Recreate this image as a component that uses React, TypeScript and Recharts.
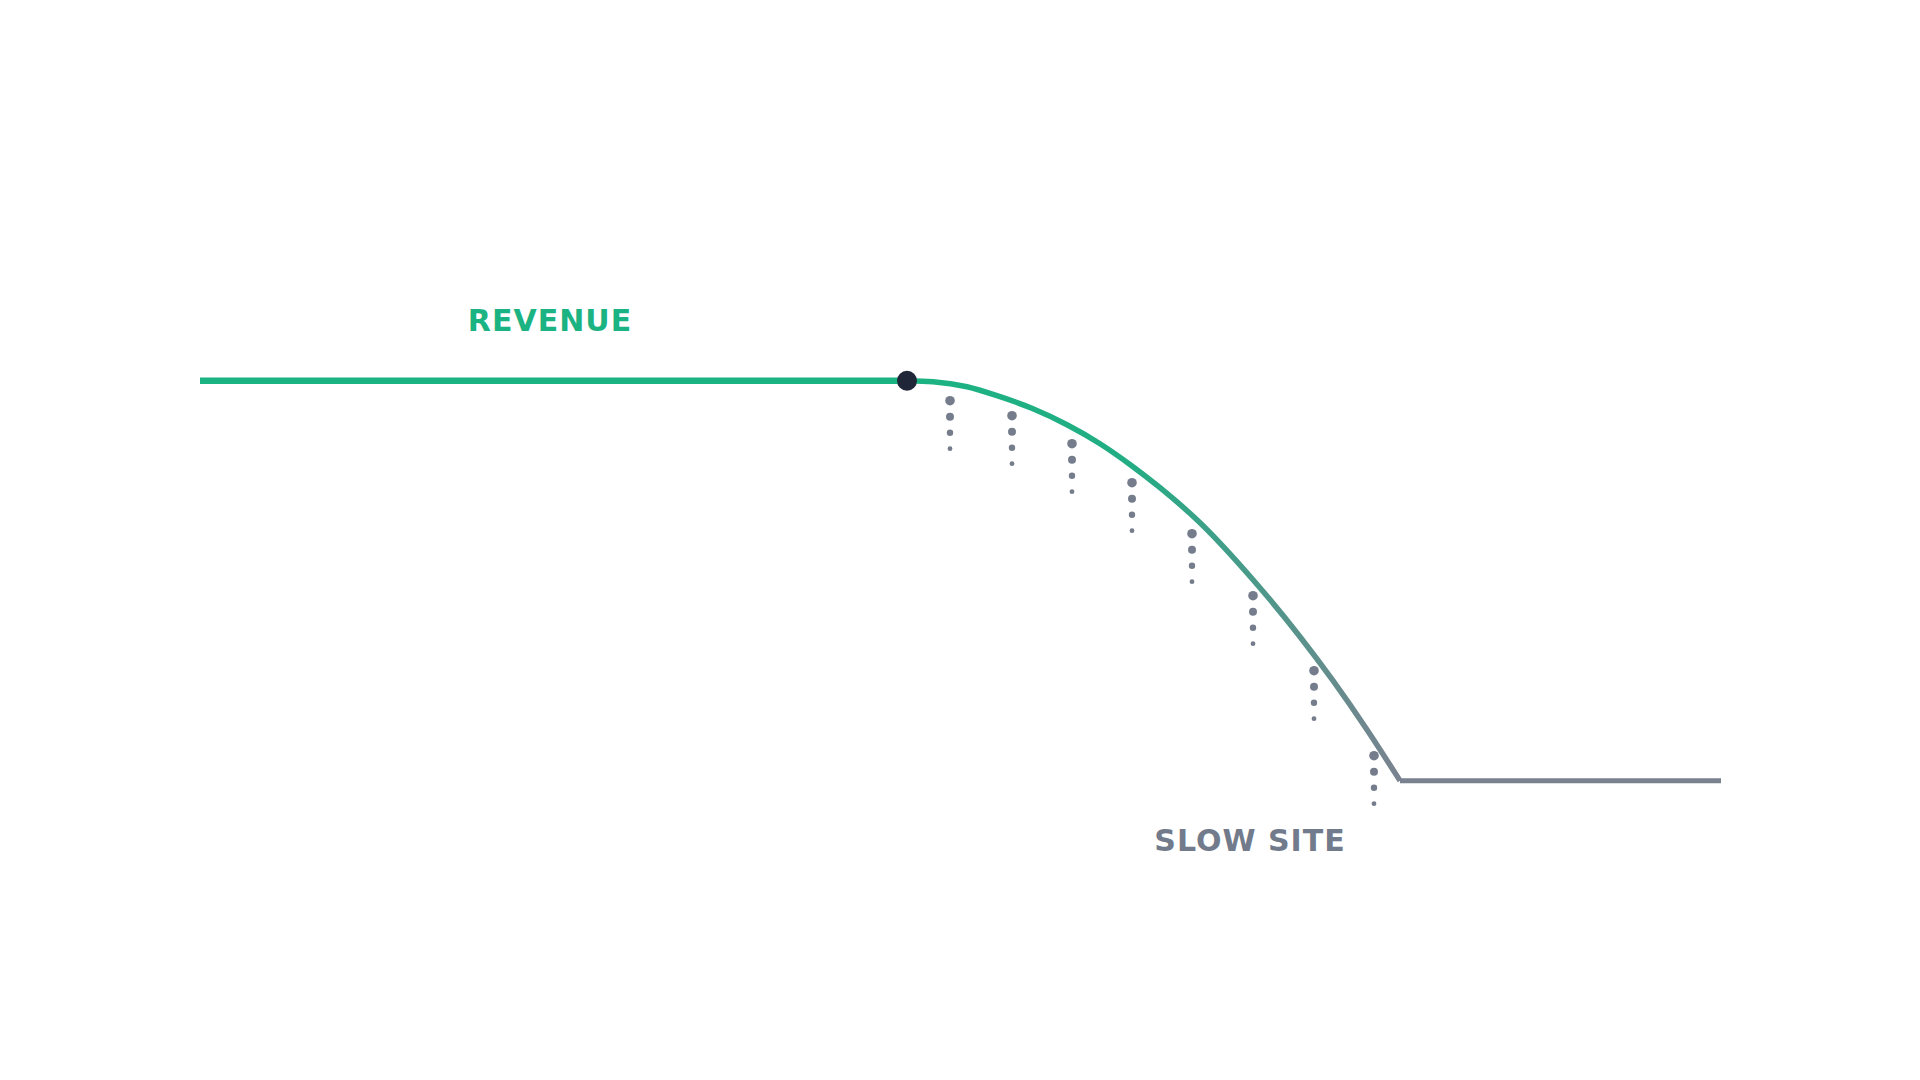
import React from 'react';
import { ComposedChart, Line, Scatter, XAxis, YAxis, ReferenceDot } from 'recharts';

// x: distance along the timeline, y: revenue level (slow-site floor = 0)
const revenueFlat = [
  { x: 0, y: 40 },
  { x: 70.7, y: 40 },
];

const dropX = [70.7, 73.3, 76.7, 80, 83.3, 86.7, 90, 93.3, 96, 100, 105.3, 110, 113.3, 116.7, 120];
const dropY = [40, 39.9, 39.4, 38.4, 37.2, 35.6, 33.7, 31.4, 29.3, 25.8, 20.1, 14.4, 10.0, 5.1, 0];

const slowFlat = [
  { x: 120, y: 0 },
  { x: 152.1, y: 0 },
];

// leaking "drips" under the curve: one column per step, four dots each
const dripX = [75, 81.2, 87.2, 93.2, 99.2, 105.3, 111.4, 117.4];
const dripRow1 = [38.0, 36.5, 33.7, 29.8, 24.7, 18.5, 11.0, 2.5];
const dripRow2 = [36.4, 34.9, 32.1, 28.2, 23.1, 16.9, 9.4, 0.9];
const dripRow3 = [34.8, 33.3, 30.5, 26.6, 21.5, 15.3, 7.8, -0.7];
const dripRow4 = [33.2, 31.7, 28.9, 25.0, 19.9, 13.7, 6.2, -2.3];
const dripRadius = [4.8, 4.0, 3.2, 2.4];

const tippingPoint = [{ x: 70.7, y: 40 }];

const revenueLabel = { text: 'REVENUE', x: 35, y: 45 };
const slowLabel = { text: 'SLOW SITE', x: 105, y: -7 };

const dropData = dropX.map((x, i) => ({ x, y: dropY[i] }));
const dripRows = [dripRow1, dripRow2, dripRow3, dripRow4].map((row) =>
  row.map((y, i) => ({ x: dripX[i], y }))
);

const GREEN = '#1bb382';
const GRAY = '#7a8290';
const GRAY_TEXT = '#727b8b';
const DARK = '#1f2638';

const labelShape = (text: string, color: string) => (p: any) => (
  <text
    x={p.cx}
    y={p.cy}
    textAnchor="middle"
    fill={color}
    fontFamily="'DejaVu Sans', sans-serif"
    fontWeight="bold"
    fontSize={30}
    letterSpacing={1}
  >
    {text}
  </text>
);

const App: React.FC = () => {
  return (
    <div style={{ position: 'absolute', left: 0, top: 0, width: 1920, height: 1080, background: '#fff' }}>
      <ComposedChart width={1920} height={1080} margin={{ top: 0, right: 0, bottom: 0, left: 0 }}>
        <defs>
          <linearGradient id="dropGrad" x1="0" y1="0" x2="1" y2="0">
            <stop offset="0%" stopColor={GREEN} />
            <stop offset="45%" stopColor="#22ad84" />
            <stop offset="100%" stopColor={GRAY} />
          </linearGradient>
        </defs>
        <XAxis type="number" dataKey="x" domain={[-20, 172]} hide allowDataOverflow />
        <YAxis type="number" dataKey="y" domain={[-29.93, 78.07]} hide allowDataOverflow />

        <Line
          data={revenueFlat}
          dataKey="y"
          type="linear"
          stroke={GREEN}
          strokeWidth={6.5}
          dot={false}
          activeDot={false}
          isAnimationActive={false}
        />
        <Line
          data={dropData}
          dataKey="y"
          type="monotone"
          stroke="url(#dropGrad)"
          strokeWidth={5.5}
          dot={false}
          activeDot={false}
          isAnimationActive={false}
        />
        <Line
          data={slowFlat}
          dataKey="y"
          type="linear"
          stroke={GRAY}
          strokeWidth={5}
          dot={false}
          activeDot={false}
          isAnimationActive={false}
        />

        {dripRows.map((rows, r) => (
          <Scatter
            key={`drip-${r}`}
            data={rows}
            isAnimationActive={false}
            shape={(p: any) => <circle cx={p.cx} cy={p.cy} r={dripRadius[r]} fill="#757d8c" />}
          />
        ))}

        <Scatter
          data={tippingPoint}
          isAnimationActive={false}
          shape={(p: any) => <circle cx={p.cx} cy={p.cy} r={10} fill={DARK} />}
        />

        <ReferenceDot x={revenueLabel.x} y={revenueLabel.y} r={0} shape={labelShape(revenueLabel.text, GREEN)} />
        <ReferenceDot x={slowLabel.x} y={slowLabel.y} r={0} shape={labelShape(slowLabel.text, GRAY_TEXT)} />
      </ComposedChart>
    </div>
  );
};

export default App;
